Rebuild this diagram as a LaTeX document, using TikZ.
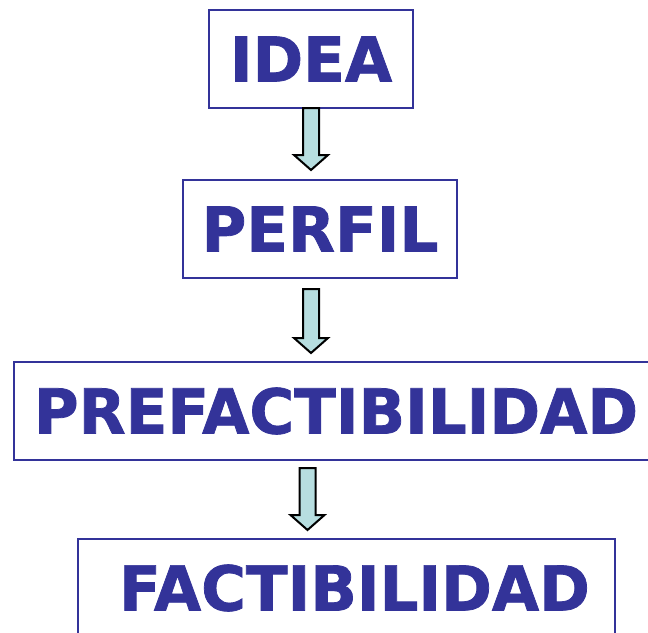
\documentclass[tikz,border=0pt]{standalone}
\usepackage{fontspec}
\newfontfamily\cajafont{DejaVu Sans}[FakeStretch=0.985, FakeBold=1.2]
\usetikzlibrary{calc}
\definecolor{azul}{RGB}{51,51,153}
\definecolor{celeste}{RGB}{183,222,224}
\tikzset{
  etapa/.style={draw=azul, line width=2pt, text=azul, inner sep=0pt,
    minimum height=98pt, font=\cajafont\bfseries\fontsize{62}{62}\selectfont},
  flecha/.style={draw=black, fill=celeste, line width=2pt, line join=miter}
}
% flecha de bloque desde #1 hasta #2
\newcommand{\bajada}[2]{%
  \draw[flecha] ($(#1)+(-8,0)$) -- ($(#2)+(-8,-15)$) -- ($(#2)+(-17,-15)$)
    -- (#2) -- ($(#2)+(17,-15)$) -- ($(#2)+(8,-15)$) -- ($(#1)+(8,0)$) -- cycle;}
\begin{document}
\begin{tikzpicture}[x=1pt, y=-1pt]
  \clip (0,0) rectangle (648,632);
  \fill[white] (0,0) rectangle (648,632);

  % Etapas
  \node[etapa, minimum width=204pt] (idea) at (311,59) {IDEA};
  \node[etapa, minimum width=274pt] (perfil) at (320,229) {PERFIL};
  \node[etapa, minimum width=644pt] (prefact) at (336,411) {PREFACTIBILIDAD};
  \node[etapa, minimum width=537pt] (fact) at (346.5,588) {\hspace*{16pt}FACTIBILIDAD};

  % Puntos de las flechas
  \coordinate (a1) at (311,108);  \coordinate (b1) at (311,170);
  \coordinate (a2) at (311,289);  \coordinate (b2) at (311,353);
  \coordinate (a3) at (307.5,468); \coordinate (b3) at (307.5,530);

  % Flechas
  \bajada{a1}{b1}
  \bajada{a2}{b2}
  \bajada{a3}{b3}
\end{tikzpicture}
\end{document}
